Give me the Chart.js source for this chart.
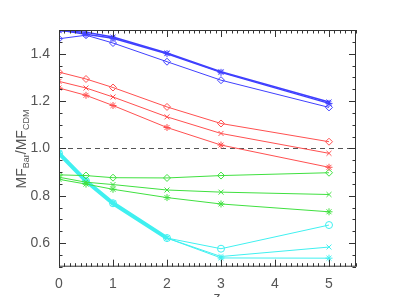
<!DOCTYPE html>
<html><head><meta charset="utf-8">
<script src="https://cdn.jsdelivr.net/npm/chart.js@4/dist/chart.umd.min.js"></script>
<style>html,body{margin:0;padding:0;background:#fff}#wrap{width:415px;height:297px}</style>
</head><body><div id="wrap"><canvas id="c" width="415" height="297"></canvas></div>
<script>
const zValues = [0, 0.5, 1, 2, 3, 5];
const xTicks = [0, 1, 2, 3, 4, 5];
const yTicks = [0.6, 0.8, 1.0, 1.2, 1.4];
const blueDiamond = [1.463, 1.478, 1.445, 1.366, 1.288, 1.173];
const blueCross   = [1.497, 1.490, 1.470, 1.403, 1.324, 1.196];
const blueStar    = [1.500, 1.482, 1.465, 1.400, 1.321, 1.190];
const redDiamond  = [1.322, 1.293, 1.257, 1.175, 1.105, 1.028];
const redCross    = [1.283, 1.255, 1.217, 1.133, 1.063, 0.979];
const redStar     = [1.255, 1.224, 1.181, 1.088, 1.014, 0.920];
const greenDiamond= [0.888, 0.885, 0.876, 0.875, 0.885, 0.897];
const greenCross  = [0.878, 0.857, 0.847, 0.824, 0.815, 0.805];
const greenStar   = [0.869, 0.849, 0.827, 0.792, 0.765, 0.732];
const cyanDiamond = [0.979, 0.862, 0.768, 0.621, 0.576, 0.676];
const cyanCross   = [0.979, 0.862, 0.768, 0.621, 0.543, 0.583];
const cyanStar    = [0.979, 0.862, 0.768, 0.621, 0.537, 0.536];
const cyanThickZ  = [0, 0.5, 1, 2];
const cyanThick   = [0.979, 0.862, 0.768, 0.621];

const pts = (xs, ys) => xs.map((x, i) => ({x, y: ys[i]}));
function ds(vals, color, style, width) {
  return {data: pts(zValues, vals), borderColor: color, backgroundColor: 'rgba(0,0,0,0)',
    borderWidth: width || 1, pointStyle: style, pointRadius: 3.5, pointBorderColor: color,
    pointBorderWidth: 1, showLine: true, tension: 0};
}
const BLUE = '#4040ff', RED = '#ff5050', GREEN = '#40e040', CYAN = '#40f0f0';
const datasets = [
  ds(blueDiamond, BLUE, 'rectRot'), ds(blueCross, BLUE, 'crossRot', 1.5), ds(blueStar, BLUE, 'star', 1.5),
  ds(redDiamond, RED, 'rectRot'), ds(redCross, RED, 'crossRot'), ds(redStar, RED, 'star'),
  ds(greenDiamond, GREEN, 'rectRot'), ds(greenCross, GREEN, 'crossRot'), ds(greenStar, GREEN, 'star'),
  ds(cyanDiamond, CYAN, 'circle'), ds(cyanCross, CYAN, 'crossRot'), ds(cyanStar, CYAN, 'star'),
  {data: pts(cyanThickZ, cyanThick), borderColor: CYAN, borderWidth: 4, pointRadius: 0, showLine: true}
];

const AXC = '#333';
const FONT = 'Liberation Sans Narrow, Liberation Sans, sans-serif';
const deco = {
  id: 'deco',
  beforeDatasetsDraw(chart) {
    const {ctx, chartArea: a, scales: {x, y}} = chart;
    ctx.save();
    ctx.strokeStyle = '#555'; ctx.lineWidth = 1; ctx.setLineDash([5, 4]);
    const yy = Math.round(y.getPixelForValue(1.0)) + 0.5;
    ctx.beginPath(); ctx.moveTo(a.left, yy); ctx.lineTo(a.right, yy); ctx.stroke();
    ctx.restore();
  },
  afterDraw(chart) {
    const {ctx, chartArea: a, scales: {x, y}} = chart;
    ctx.save();
    ctx.strokeStyle = AXC; ctx.lineWidth = 1;
    ctx.strokeRect(a.left + 0.5, a.top + 0.5, a.right - a.left - 1, a.bottom - a.top - 1);
    ctx.beginPath();
    for (let k = 0; k <= 55; k++) {
      const v = k / 10, px = Math.round(x.getPixelForValue(v)) + 0.5;
      const L = (k % 10 === 0) ? 7 : 3.5;
      ctx.moveTo(px, a.bottom); ctx.lineTo(px, a.bottom - L);
      ctx.moveTo(px, a.top); ctx.lineTo(px, a.top + L);
    }
    for (let k = 10; k <= 30; k++) {
      const v = k / 20, py = Math.round(y.getPixelForValue(v)) + 0.5;
      const L = (k % 4 === 0) ? 7 : 3.5;
      ctx.moveTo(a.left, py); ctx.lineTo(a.left + L, py);
      ctx.moveTo(a.right, py); ctx.lineTo(a.right - L, py);
    }
    ctx.stroke();
    ctx.fillStyle = '#555';
    ctx.textBaseline = 'alphabetic';
    ctx.font = '14px ' + FONT;
    ctx.textAlign = 'center';
    ctx.fillText('z', 217, 302);
    ctx.translate(26, 149);
    ctx.rotate(-Math.PI / 2);
    const big = '14px ' + FONT, small = '9px ' + FONT;
    const parts = [['MF', big, 0], ['Bar', small, 3], ['/MF', big, 0], ['CDM', small, 3]];
    let w = 0;
    parts.forEach(p => { ctx.font = p[1]; w += ctx.measureText(p[0]).width; });
    let cx = -w / 2;
    ctx.textAlign = 'left';
    parts.forEach(p => { ctx.font = p[1]; ctx.fillText(p[0], cx, p[2]); cx += ctx.measureText(p[0]).width; });
    ctx.restore();
  }
};

new Chart(document.getElementById('c'), {
  type: 'scatter',
  data: {datasets},
  options: {
    responsive: false, animation: false, devicePixelRatio: 1,
    layout: {padding: {left: 0, top: 30, right: 59, bottom: 0}},
    plugins: {legend: {display: false}, tooltip: {enabled: false}},
    scales: {
      x: {type: 'linear', min: 0, max: 5.5,
        grid: {display: false, drawTicks: false}, border: {display: false},
        afterBuildTicks: s => { s.ticks = xTicks.map(v => ({value: v})); },
        afterFit: s => { s.height = 30.3; },
        ticks: {padding: 9, color: '#555', font: {family: FONT, size: 14}, maxRotation: 0,
          callback: v => String(v)}},
      y: {type: 'linear', min: 0.5, max: 1.5,
        grid: {display: false, drawTicks: false}, border: {display: false},
        afterBuildTicks: s => { s.ticks = yTicks.map(v => ({value: v})); },
        afterFit: s => { s.width = 59; },
        ticks: {padding: 9, color: '#555', font: {family: FONT, size: 14},
          callback: v => Number(v).toFixed(1)}}
    }
  },
  plugins: [deco]
});
</script></body></html>
